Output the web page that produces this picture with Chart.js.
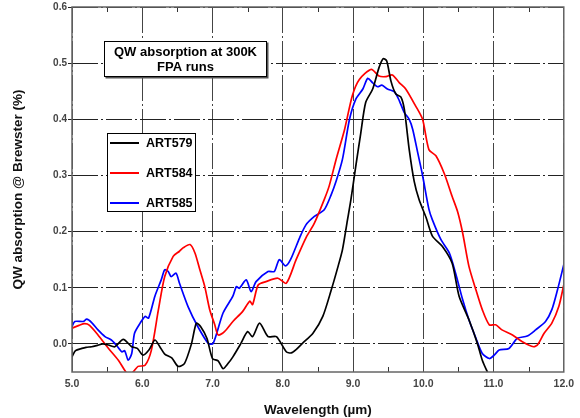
<!DOCTYPE html>
<html>
<head>
<meta charset="utf-8">
<script src="https://cdn.jsdelivr.net/npm/chart.js@4.4.0/dist/chart.umd.min.js"></script>
<style>
  html, body { margin: 0; padding: 0; background: #fff; }
  #wrap { width: 580px; height: 418px; }
</style>
</head>
<body>
<div id="wrap"><canvas id="chart" width="580" height="418"></canvas></div>
<script>
// tick values
const xTicks = [5, 6, 7, 8, 9, 10, 11, 12];
const xMinorTicks = [5.5, 6.5, 7.5, 8.5, 9.5, 10.5, 11.5];
const yTicks = [0, 0.1, 0.2, 0.3, 0.4, 0.5, 0.6];

// ART579 (black)
const wl579 = [5.0, 5.05, 5.14, 5.2, 5.28, 5.35, 5.44, 5.52, 5.61, 5.73, 5.85, 5.93, 6.01, 6.1, 6.18, 6.25, 6.32, 6.42, 6.51, 6.6,
  6.7, 6.77, 6.83, 6.92, 7.0, 7.08, 7.15, 7.22, 7.29, 7.4, 7.5, 7.57, 7.67, 7.79, 7.91, 8.05, 8.12, 8.19, 8.28, 8.43, 8.57,
  8.69, 8.78, 8.85, 8.92, 8.97, 9.04, 9.11, 9.18, 9.28, 9.37, 9.43, 9.48, 9.54, 9.61, 9.68, 9.73, 9.80, 9.87, 9.94, 10.04,
  10.13, 10.27, 10.41, 10.51, 10.65, 10.77, 10.84, 10.93];
const abs579 = [-0.023, -0.012, -0.008, -0.006, -0.005, -0.003, 0.0, -0.002, -0.005, 0.008, -0.005, -0.008, -0.02, -0.01, 0.007, -0.005, -0.018, -0.025, -0.04, -0.035,
  0.0, 0.037, 0.031, 0.01, -0.026, -0.03, -0.044, -0.035, -0.023, 0.0, 0.022, 0.013, 0.037, 0.013, 0.013, -0.014, -0.016, -0.01, 0.001, 0.019, 0.049,
  0.096, 0.135, 0.168, 0.22, 0.257, 0.317, 0.375, 0.43, 0.454, 0.492, 0.508, 0.504, 0.468, 0.445, 0.44, 0.418, 0.346, 0.29, 0.257, 0.225,
  0.192, 0.174, 0.144, 0.085, 0.043, 0.001, -0.029, -0.055];

// ART584 (red)
const wl584 = [5.0, 5.1, 5.18, 5.25, 5.37, 5.52, 5.66, 5.80, 5.87, 5.94, 6.04, 6.13, 6.23, 6.32, 6.44, 6.53, 6.58, 6.68, 6.75, 6.82,
  6.89, 6.96, 7.03, 7.08, 7.17, 7.29, 7.43, 7.53, 7.57, 7.65, 7.76, 7.93, 8.05, 8.19, 8.33, 8.45, 8.59, 8.66, 8.76, 8.88,
  8.99, 9.09, 9.26, 9.37, 9.47, 9.56, 9.66, 9.75, 9.89, 9.99, 10.08, 10.18, 10.30, 10.41, 10.49, 10.56, 10.65, 10.75, 10.84, 10.94,
  11.03, 11.12, 11.27, 11.41, 11.57, 11.63, 11.72, 11.83, 11.93, 12.0];
const abs584 = [0.028, 0.033, 0.036, 0.033, 0.016, -0.008, -0.029, -0.055, -0.05, -0.04, -0.038, -0.011, 0.061, 0.12, 0.156, 0.165, 0.171, 0.177, 0.162, 0.132,
  0.102, 0.061, 0.035, 0.016, 0.022, 0.04, 0.058, 0.076, 0.07, 0.105, 0.111, 0.117, 0.108, 0.15, 0.189, 0.215, 0.257, 0.281, 0.329, 0.382,
  0.442, 0.471, 0.489, 0.477, 0.476, 0.479, 0.465, 0.454, 0.424, 0.4, 0.346, 0.335, 0.303, 0.263, 0.235, 0.198, 0.138, 0.096, 0.061, 0.034,
  0.034, 0.025, 0.016, 0.004, -0.005, -0.001, 0.019, 0.037, 0.067, 0.105];

// ART585 (blue)
const wl585 = [5.0, 5.04, 5.16, 5.21, 5.28, 5.37, 5.47, 5.56, 5.63, 5.71, 5.75, 5.80, 5.85, 5.89, 5.97, 6.04, 6.09, 6.18, 6.27, 6.32,
  6.37, 6.41, 6.48, 6.53, 6.65, 6.79, 6.94, 7.01, 7.15, 7.29, 7.34, 7.38, 7.48, 7.55, 7.62, 7.79, 7.88, 7.95, 8.04, 8.11,
  8.24, 8.33, 8.45, 8.59, 8.69, 8.76, 8.85, 8.95, 9.04, 9.14, 9.21, 9.28, 9.35, 9.41, 9.49, 9.59, 9.66, 9.73, 9.80, 9.85,
  9.92, 9.99, 10.08, 10.13, 10.25, 10.37, 10.46, 10.56, 10.65, 10.75, 10.84, 10.94, 11.01, 11.08, 11.22, 11.34, 11.48, 11.60, 11.74, 11.83,
  11.91, 12.0];
const abs585 = [0.031, 0.04, 0.04, 0.044, 0.038, 0.025, 0.013, 0.007, -0.002, -0.014, -0.012, -0.029, -0.017, 0.019, 0.037, 0.049, 0.046, 0.085, 0.114, 0.132,
  0.129, 0.12, 0.126, 0.108, 0.067, 0.031, 0.001, 0.001, 0.055, 0.085, 0.102, 0.099, 0.114, 0.093, 0.111, 0.129, 0.129, 0.15, 0.139, 0.15,
  0.189, 0.212, 0.227, 0.239, 0.266, 0.29, 0.329, 0.4, 0.436, 0.454, 0.473, 0.465, 0.458, 0.461, 0.454, 0.449, 0.433, 0.412, 0.4, 0.382,
  0.341, 0.3, 0.24, 0.221, 0.186, 0.162, 0.126, 0.079, 0.043, 0.01, -0.017, -0.026, -0.02, -0.011, -0.008, 0.01, 0.014, 0.025, 0.04, 0.061,
  0.096, 0.141];

const seriesNames = ['ART579', 'ART584', 'ART585'];
const seriesColors = ['#000000', '#ff0000', '#0000ff'];

function toPoints(xs, ys) {
  return xs.map((x, i) => ({ x: x, y: ys[i] }));
}

Chart.defaults.font.family = '"Liberation Sans", Arial, sans-serif';

// frame, inner minor ticks, the boxed note and the legend
const overlayPlugin = {
  id: 'overlay',
  afterDatasetsDraw(chart) {
    const ctx = chart.ctx;
    const a = chart.chartArea;
    const xs = chart.scales.x;
    ctx.save();

    ctx.strokeStyle = '#333';
    ctx.lineWidth = 1;
    xMinorTicks.forEach(v => {
      const px = Math.round(xs.getPixelForValue(v)) + 0.5;
      ctx.beginPath();
      ctx.moveTo(px, a.top);
      ctx.lineTo(px, a.top + 5);
      ctx.moveTo(px, a.bottom);
      ctx.lineTo(px, a.bottom - 5);
      ctx.stroke();
    });

    ctx.strokeStyle = '#666';
    ctx.lineWidth = 1.5;
    ctx.strokeRect(a.left, a.top, a.right - a.left, a.bottom - a.top);

    // note box
    ctx.fillStyle = '#555';
    ctx.fillRect(105.5, 42.5, 163, 36);
    ctx.fillStyle = '#fff';
    ctx.fillRect(104, 41, 163, 36);
    ctx.strokeStyle = '#000';
    ctx.lineWidth = 1;
    ctx.strokeRect(104.5, 41.5, 162, 35);
    ctx.fillStyle = '#000';
    ctx.font = 'bold 13px "Liberation Sans", Arial, sans-serif';
    ctx.textAlign = 'center';
    ctx.textBaseline = 'middle';
    ctx.fillText('QW absorption at 300K', 185.5, 52);
    ctx.fillText('FPA runs', 185.5, 67);

    // legend box
    ctx.fillStyle = '#fff';
    ctx.fillRect(107, 133, 89, 79);
    ctx.strokeStyle = '#000';
    ctx.strokeRect(107.5, 133.5, 88, 78);
    ctx.textAlign = 'left';
    ctx.font = 'bold 12.5px "Liberation Sans", Arial, sans-serif';
    const rows = [143, 173, 203];
    seriesNames.forEach((name, i) => {
      ctx.strokeStyle = seriesColors[i];
      ctx.lineWidth = 2;
      ctx.beginPath();
      ctx.moveTo(110, rows[i]);
      ctx.lineTo(139, rows[i]);
      ctx.stroke();
      ctx.fillStyle = '#000';
      ctx.fillText(name, 146, rows[i] + 1);
    });
    ctx.restore();
  }
};

const datasets = [
  toPoints(wl579, abs579),
  toPoints(wl584, abs584),
  toPoints(wl585, abs585)
].map((pts, i) => ({
  label: seriesNames[i],
  data: pts,
  borderColor: seriesColors[i],
  backgroundColor: seriesColors[i],
  borderWidth: 1.7,
  pointRadius: 0,
  tension: 0.25,
  fill: false
}));

new Chart(document.getElementById('chart'), {
  type: 'line',
  data: { datasets: datasets },
  options: {
    responsive: false,
    animation: false,
    layout: { padding: { top: 3, right: 15, left: 0, bottom: 0 } },
    plugins: {
      legend: { display: false },
      tooltip: { enabled: false }
    },
    scales: {
      x: {
        type: 'linear',
        min: 5,
        max: 12,
        afterBuildTicks: scale => { scale.ticks = xTicks.map(v => ({ value: v })); },
        afterFit: scale => { scale.height = 46; },
        grid: { color: '#444', lineWidth: 1, drawTicks: false },
        border: { display: false, dash: [26, 3, 2, 3] },
        ticks: {
          padding: 6,
          color: '#444',
          font: { size: 10.5, weight: 'bold' },
          callback: v => v.toFixed(1)
        },
        title: {
          display: true,
          text: 'Wavelength (µm)',
          color: '#111',
          font: { size: 13.5, weight: 'bold' },
          padding: { top: 3, bottom: 0 }
        }
      },
      y: {
        min: -0.05,
        max: 0.6,
        afterBuildTicks: scale => { scale.ticks = yTicks.map(v => ({ value: v })); },
        afterFit: scale => { scale.width = 72; },
        grid: { color: '#222', lineWidth: 1, drawTicks: true, tickLength: 4 },
        border: { display: false, dash: [26, 3, 2, 3] },
        ticks: {
          padding: 1,
          color: '#444',
          font: { size: 10, weight: 'bold' },
          callback: v => v.toFixed(1)
        },
        title: {
          display: true,
          text: 'QW absorption @ Brewster (%)',
          color: '#111',
          font: { size: 13.5, weight: 'bold' },
          padding: { top: 10, bottom: 0 }
        }
      }
    }
  },
  plugins: [overlayPlugin]
});
</script>
</body>
</html>
